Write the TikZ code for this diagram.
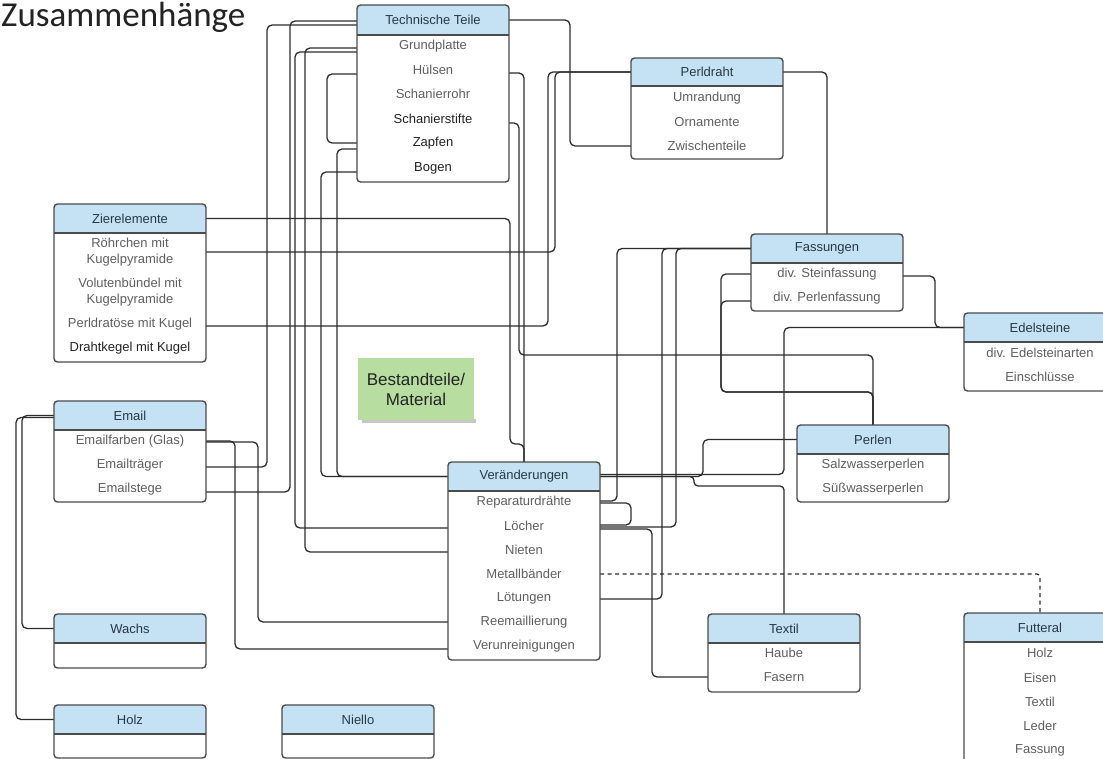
\documentclass[tikz,border=0pt]{standalone}
\usepackage{fontspec}
\setmainfont{Liberation Sans}
\newfontfamily\titlefont{Carlito}
\usetikzlibrary{backgrounds}
\definecolor{hdr}{RGB}{197,226,245}
\definecolor{bord}{RGB}{75,75,75}
\definecolor{htxt}{RGB}{40,55,70}
\definecolor{itxt}{RGB}{95,95,95}
\definecolor{dtxt}{RGB}{35,35,35}
\definecolor{lin}{RGB}{45,45,45}
\definecolor{grn}{RGB}{183,222,160}
\tikzset{
  conn/.style={draw=lin, line width=1.3pt, rounded corners=5pt},
  boxframe/.style={draw=bord, line width=1.4pt, rounded corners=3.5pt},
  itm/.style={font=\fontsize{13}{16}\selectfont, text=itxt, inner sep=0pt, minimum width=152pt, minimum height=18pt, align=center},
  itmd/.style={itm, text=dtxt},
  hdrtxt/.style={font=\fontsize{13}{16}\selectfont, text=htxt, inner sep=0pt, minimum width=152pt},
}
\newcommand\umlbox[6]{%
  \pgfmathsetmacro\bxr{#2+152}%
  \begin{scope}
    \clip[rounded corners=3.5pt] (#2,#3) rectangle (\bxr,#5);
    \fill[white] (#2,#3) rectangle (\bxr,#5);
    \fill[hdr] (#2,#3) rectangle (\bxr,#4);
  \end{scope}
  \draw[bord, line width=1.2pt] (#2,#4) -- (\bxr,#4);
  \draw[boxframe] (#2,#3) rectangle (\bxr,#5);
  \node[hdrtxt, minimum height={(#4-#3)*1pt}] (#1-h) at ({#2+76},{(#3+#4)/2}) {#6};
}
\begin{document}
\begin{tikzpicture}[x=1pt,y=-1pt]
\useasboundingbox (0,0) rectangle (1103,759);
\clip (0,0) rectangle (1103,759);
\begin{scope}[on background layer]
\fill[white] (0,0) rectangle (1103,759);
\end{scope}

\node[anchor=base west, inner sep=0pt, font=\titlefont\fontsize{35}{38}\selectfont, text=dtxt] (title) at (1,27) {Zusammenhänge};

% boxes
\umlbox{tt}{357}{5}{35}{182}{Technische Teile}
\node[itm] (tt-1) at (433,46) {Grundplatte};
\node[itm] (tt-2) at (433,70) {Hülsen};
\node[itm] (tt-3) at (433,94) {Schanierrohr};
\node[itmd] (tt-4) at (433,119) {Schanierstifte};
\node[itmd] (tt-5) at (433,143) {Zapfen};
\node[itmd] (tt-6) at (433,168) {Bogen};

\umlbox{pd}{631}{58}{86}{159}{Perldraht}
\node[itm] (pd-1) at (707,98) {Umrandung};
\node[itm] (pd-2) at (707,122) {Ornamente};
\node[itm] (pd-3) at (707,146) {Zwischenteile};

\umlbox{zi}{54}{204}{233}{362}{Zierelemente}
\node[itm] (zi-1) at (130,252) {Röhrchen mit\\Kugelpyramide};
\node[itm] (zi-2) at (130,292) {Volutenbündel mit\\Kugelpyramide};
\node[itm] (zi-3) at (130,324) {Perldratöse mit Kugel};
\node[itmd] (zi-4) at (130,348) {Drahtkegel mit Kugel};

\umlbox{em}{54}{401}{430}{502}{Email}
\node[itm] (em-1) at (130,441) {Emailfarben (Glas)};
\node[itm] (em-2) at (130,465) {Emailträger};
\node[itm] (em-3) at (130,489) {Emailstege};

\umlbox{wa}{54}{614}{643}{668}{Wachs}
\umlbox{ho}{54}{705}{734}{758}{Holz}
\umlbox{ni}{282}{705}{734}{758}{Niello}

\umlbox{ve}{448}{462}{491}{660}{Veränderungen}
\node[itm] (ve-1) at (524,502) {Reparaturdrähte};
\node[itm] (ve-2) at (524,526) {Löcher};
\node[itm] (ve-3) at (524,550) {Nieten};
\node[itm] (ve-4) at (524,574) {Metallbänder};
\node[itm] (ve-5) at (524,598) {Lötungen};
\node[itm] (ve-6) at (524,622) {Reemaillierung};
\node[itm] (ve-7) at (524,646) {Verunreinigungen};

\umlbox{fa}{751}{234}{263}{311}{Fassungen}
\node[itm] (fa-1) at (827,274) {div. Steinfassung};
\node[itm] (fa-2) at (827,298) {div. Perlenfassung};

\umlbox{ed}{964}{313}{342}{391}{Edelsteine}
\node[itm] (ed-1) at (1040,353) {div. Edelsteinarten};
\node[itm] (ed-2) at (1040,377) {Einschlüsse};

\umlbox{pe}{797}{425}{454}{502}{Perlen}
\node[itm] (pe-1) at (873,465) {Salzwasserperlen};
\node[itm] (pe-2) at (873,489) {Süßwasserperlen};

\umlbox{tx}{708}{614}{643}{692}{Textil}
\node[itm] (tx-1) at (784,653) {Haube};
\node[itm] (tx-2) at (784,677) {Fasern};

\umlbox{fu}{964}{613}{642}{800}{Futteral}
\node[itm] (fu-1) at (1040,653) {Holz};
\node[itm] (fu-2) at (1040,678) {Eisen};
\node[itm] (fu-3) at (1040,702) {Textil};
\node[itm] (fu-4) at (1040,726) {Leder};
\node[itm] (fu-5) at (1040,750) {Fassung};

% green note
\fill[black!22] (362,419) rectangle (476,423);
\node[fill=grn, minimum width=116pt, minimum height=62pt, inner sep=0pt, align=center,
      font=\fontsize{17}{20}\selectfont, text=dtxt] (bm) at (416,389) {Bestandteile/\\Material};

% connectors
\begin{scope}[on background layer]
\draw[conn] ([yshift=-5pt]tt-h.west) -| (267,300) |- ([yshift=-2pt]em-2.east);
\draw[conn] ([yshift=-1pt]tt-h.west) -| (290,300) |- ([yshift=-3pt]em-3.east);
\draw[conn] ([yshift=-6pt]tt-1.west) -| (295,300) |- ([yshift=-2pt]ve-2.west);
\draw[conn] ([yshift=-2pt]tt-1.west) -| (305,300) |- ([yshift=-2pt]ve-3.west);
\draw[conn] ([yshift=-4pt]tt-2.west) -| (327,110) |- (tt-5.west);
\draw[conn] ([yshift=-6pt]tt-5.west) -| (337,300) |- (ve-h.west);
\draw[conn] ([yshift=-4pt]tt-6.west) -| (321,300) |- (ve-h.west);

\draw[conn] (tt-h.east) -| (570,80) |- (pd-3.west);
\draw[conn] ([yshift=-3pt]tt-2.east) -| (ve-h.north);
\draw[conn] ([yshift=-4pt]tt-4.east) -| (519,300) |- (700,355) -| (pe-h.north);
\draw[conn] (zi-h.east) -| (510,444) -| (ve-h.north);
\draw[conn] (zi-1.east) -| (555,150) |- (pd-h.west);
\draw[conn] ([yshift=-2pt]zi-3.east) -| (548,150) |- (pd-h.west);
\draw[conn] (pd-h.east) -| (fa-h.north);

\draw[conn] (fa-h.west) -| (617,400) |- ([yshift=1pt]ve-1.east);
\draw[conn] (fa-h.west) -| (676,400) |- ([yshift=-1pt]ve-2.east);
\draw[conn] (fa-h.west) -| (662,400) |- ([yshift=-1pt]ve-5.east);
\draw[conn] ([yshift=-1pt]ve-1.east) -| (631,515) |- ([yshift=1pt]ve-2.east);
\draw[conn] ([yshift=-3pt]ve-2.east) -| (652,600) |- (tx-2.west);
\draw[conn, dash pattern=on 4pt off 3.5pt, rounded corners=3pt] (ve-4.east) -| (fu-h.north);
\draw[conn] (ve-h.east) -| (703,455) |- (pe-h.west);
\draw[conn] ([yshift=2pt]ve-h.east) -| (784,400) |- (ed-h.west);
\draw[conn, rounded corners=4pt] (ve-h.east) -| (694,486) -| (tx-h.north);
\draw[conn] (fa-1.west) -| (721,350) |- (800,392) -| (pe-h.north);
\draw[conn] ([yshift=-3pt]fa-2.west) -| (721,350) |- (800,392) -| (pe-h.north);
\draw[conn] ([yshift=-2pt]fa-1.east) -| (935,300) |- (ed-h.west);

\draw[conn] (em-h.west) -| (22,500) |- (wa-h.west);
\draw[conn] ([yshift=-2pt]em-h.west) -| (16,500) |- (ho-h.west);
\draw[conn] (em-1.east) -| (235,550) |- ([yshift=-3pt]ve-7.west);
\draw[conn] ([yshift=-1pt]em-1.east) -| (258,550) |- (ve-6.west);
\end{scope}
\end{tikzpicture}
\end{document}
